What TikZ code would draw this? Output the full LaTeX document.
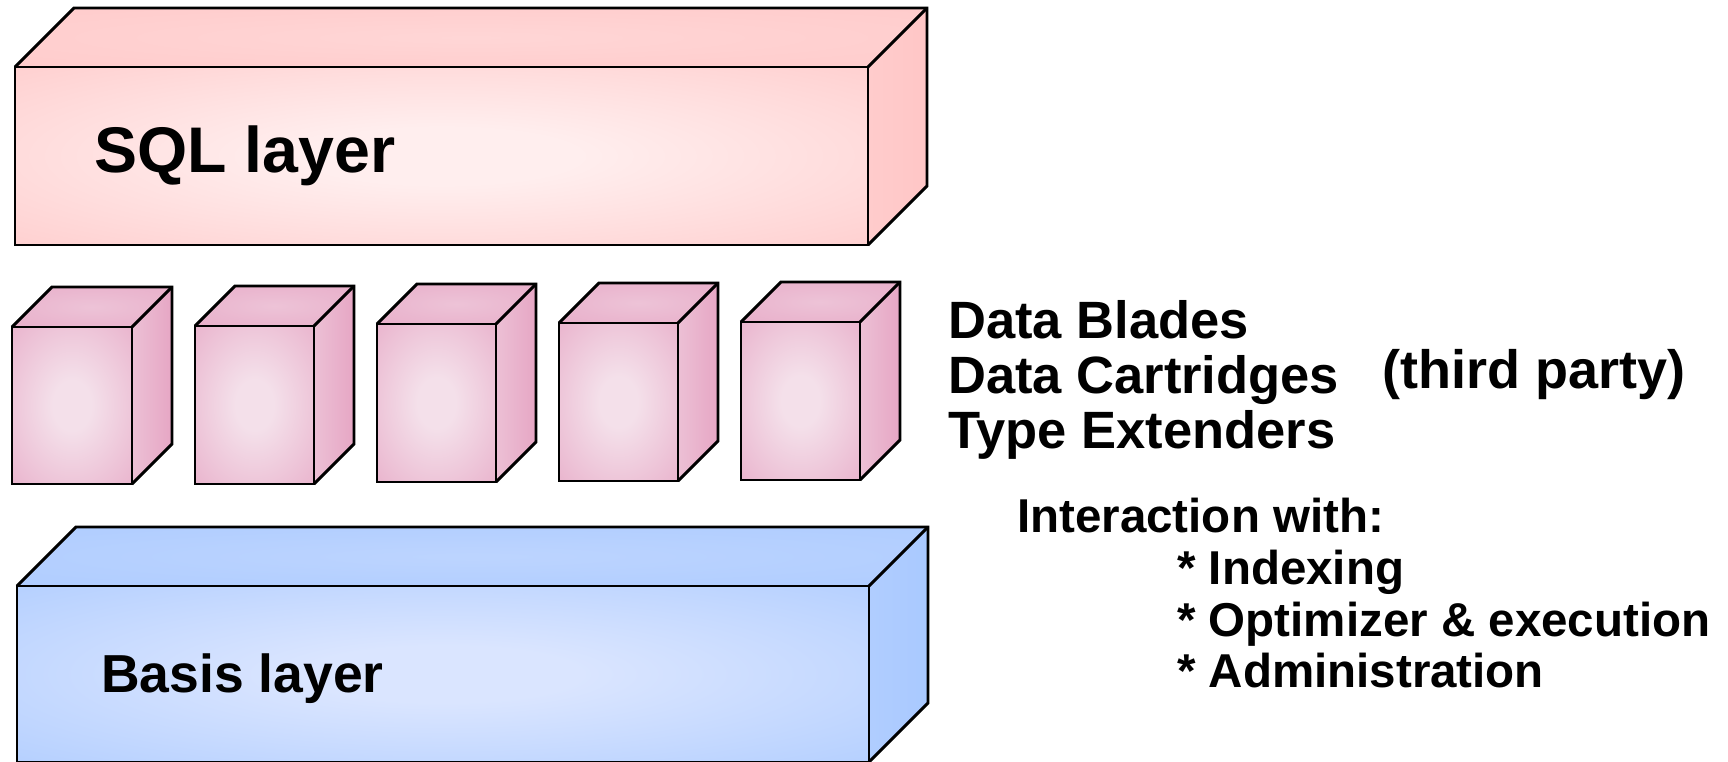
\documentclass[tikz,border=0pt]{standalone}
\usepackage{fontspec}
\setmainfont{Liberation Sans}
\definecolor{sqlout}{HTML}{FFC6C6}
\definecolor{sqlin}{HTML}{FFEEEE}
\definecolor{dbout}{HTML}{E6A6C4}
\definecolor{dbin}{HTML}{F4E0EA}
\definecolor{bout}{HTML}{A9C9FF}
\definecolor{bin}{HTML}{DAE5FF}
\pgfdeclareradialshading{sqlglow}{\pgfpoint{0bp}{0bp}}{color(0bp)=(sqlin); color(8bp)=(sqlin); color(45bp)=(sqlout); color(100bp)=(sqlout)}
\pgfdeclareradialshading{dbglow}{\pgfpoint{0bp}{0bp}}{color(0bp)=(dbin); color(8bp)=(dbin); color(45bp)=(dbout); color(100bp)=(dbout)}
\pgfdeclareradialshading{bglow}{\pgfpoint{0bp}{0bp}}{color(0bp)=(bin); color(8bp)=(bin); color(45bp)=(bout); color(100bp)=(bout)}
\pgfdeclareradialshading{sqltop}{\pgfpoint{0bp}{0bp}}{color(0bp)=(sqlin!40!sqlout); color(20bp)=(sqlin!25!sqlout); color(55bp)=(sqlout); color(100bp)=(sqlout)}
\pgfdeclareradialshading{dbtop}{\pgfpoint{0bp}{0bp}}{color(0bp)=(dbin!50!dbout); color(20bp)=(dbin!30!dbout); color(55bp)=(dbout); color(100bp)=(dbout)}
\pgfdeclareradialshading{btop}{\pgfpoint{0bp}{0bp}}{color(0bp)=(bin!40!bout); color(20bp)=(bin!25!bout); color(55bp)=(bout); color(100bp)=(bout)}
% x, y (front top-left), width, height, depth, front shading, top shading, right-face left colour, right-face right colour
\newcommand\drawcuboid[9]{%
  \shade[shading=#7] (#1,#2) -- ++(#5,-#5) -- ++(#3,0) -- ++(-#5,#5) -- cycle;
  \shade[left color=#8, right color=#9] (#1+#3,#2) -- ++(#5,-#5) -- ++(0,#4) -- ++(-#5,#5) -- cycle;
  \shade[shading=#6] (#1,#2) rectangle ++(#3,#4);
  \draw[edge] (#1,#2) rectangle ++(#3,#4);
  \draw[edge] (#1,#2) -- ++(#5,-#5) -- ++(#3,0) -- ++(0,#4) -- ++(-#5,#5);
  \draw[edge] (#1+#3,#2) -- ++(#5,-#5);
}
\tikzset{
  edge/.style={draw=black, line width=2.9pt, line join=miter},
  bigtxt/.style={anchor=base west, inner sep=0pt, font=\bfseries\fontsize{52.5}{55}\selectfont},
  midtxt/.style={anchor=base west, inner sep=0pt, font=\bfseries\fontsize{47.5}{52}\selectfont},
}
\begin{document}
\begin{tikzpicture}[x=1pt,y=-1pt]
\useasboundingbox (0,0) rectangle (1728,762);
% SQL layer
\drawcuboid{15}{67}{853}{178}{59}{sqlglow}{sqltop}{sqlout!85!sqlin}{sqlout}
\node[anchor=base west, inner sep=0pt, font=\bfseries\fontsize{64.5}{70}\selectfont] (sql) at (94,172) {SQL layer};
% Data blades
\drawcuboid{12}{327}{120}{157}{40}{dbglow}{dbtop}{dbin!45!dbout}{dbout}
\drawcuboid{195}{326}{119}{158}{40}{dbglow}{dbtop}{dbin!45!dbout}{dbout}
\drawcuboid{377}{324}{119}{158}{40}{dbglow}{dbtop}{dbin!45!dbout}{dbout}
\drawcuboid{559}{323}{119}{158}{40}{dbglow}{dbtop}{dbin!45!dbout}{dbout}
\drawcuboid{741}{322}{119}{158}{40}{dbglow}{dbtop}{dbin!45!dbout}{dbout}
% Basis layer
\drawcuboid{17}{586}{852}{176}{59}{bglow}{btop}{bout!85!bin}{bout}
\node[anchor=base west, inner sep=0pt, font=\bfseries\fontsize{53.5}{60}\selectfont] (basis) at (101,692) {Basis layer};
% Texts
\node[bigtxt] (blades) at (948,338) {Data Blades};
\node[bigtxt] (cart) at (948,393) {Data Cartridges};
\node[bigtxt] (ext) at (948,448) {Type Extenders};
\node[anchor=base west, inner sep=0pt, font=\bfseries\fontsize{54}{58}\selectfont] (third) at (1382,388) {(third party)};
\node[midtxt] (inter) at (1017,532) {Interaction with:};
\node[midtxt] (idx) at (1177,584) {* Indexing};
\node[midtxt] (opt) at (1177,636) {* Optimizer \& execution};
\node[midtxt] (adm) at (1177,687) {* Administration};
\end{tikzpicture}
\end{document}
